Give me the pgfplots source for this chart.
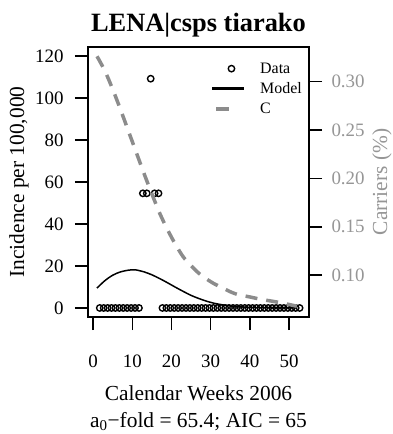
\documentclass[border=0pt]{standalone}
\usepackage{fontspec}
\setmainfont{Liberation Serif}
\usepackage{pgfplots}
\usepackage{pgfplotstable}
\pgfplotsset{compat=1.18}
\definecolor{cgray}{RGB}{140,140,140}
\definecolor{lgray}{RGB}{150,150,150}

\pgfplotsset{
  dotleg/.style={legend image code/.code={\path (0bp,0bp) (44bp,0bp); \draw[##1] plot coordinates {(19bp,0bp)};}},
  lineleg/.style={legend image code/.code={\path (0bp,0bp) (44bp,0bp); \draw[##1] (0bp,0bp) -- (32bp,0bp);}},
  cleg/.style={legend image code/.code={\path (0bp,0bp) (44bp,0bp); \draw[##1, solid] (4bp,0bp) -- (17bp,0bp);}},
}

% weekly incidence (data points)
\pgfplotstableread{
x y
1.7 0
2.7 0
3.7 0
4.7 0
5.7 0
6.7 0
7.7 0
8.7 0
9.7 0
10.7 0
11.7 0
12.7 54.6
13.7 54.6
14.7 109.2
15.7 54.6
16.7 54.6
17.7 0
18.7 0
19.7 0
20.7 0
21.7 0
22.7 0
23.7 0
24.7 0
25.7 0
26.7 0
27.7 0
28.7 0
29.7 0
30.7 0
31.7 0
32.7 0
33.7 0
34.7 0
35.7 0
36.7 0
37.7 0
38.7 0
39.7 0
40.7 0
41.7 0
42.7 0
43.7 0
44.7 0
45.7 0
46.7 0
47.7 0
48.7 0
49.7 0
50.7 0
51.7 0
52.7 0
}\incid

% model fit
\pgfplotstableread{
x y
1 9.5
3 13.0
5 15.6
7 17.2
9 18.0
10 18.2
11 18.1
13 17.2
15 15.8
17 14.0
19 12.0
21 9.9
23 7.9
25 6.0
27 4.5
29 3.2
31 2.2
33 1.5
35 1.0
37 0.6
40 0.3
45 0.1
52 0.0
}\model

% carriers (right axis)
\pgfplotstableread{
x y
1 0.326
3 0.311
5 0.292
7 0.271
9 0.249
11 0.227
13 0.205
15 0.184
17 0.164
19 0.147
21 0.132
23 0.119
25 0.110
27 0.102
29 0.096
31 0.091
33 0.087
35 0.083
37 0.080
40 0.0776
43 0.075
46 0.073
49 0.0707
52 0.068
}\carrier

\begin{document}
\begin{tikzpicture}
\useasboundingbox (-88bp,-117bp) rectangle (305bp,317bp);
\pgfplotsset{
  every axis/.append style={
    scale only axis, width=221bp, height=270bp,
    xmin=-1.3, xmax=55.1,
    tick align=outside, major tick length=13bp,
    /pgf/number format/assume math mode=true,
    every tick/.style={line width=1.5bp, black},
    axis line style={line width=1.5bp},
    tick label style={font=\fontsize{19}{22}\selectfont},
    label style={font=\fontsize{21.5}{27}\selectfont},
  },
}
\begin{axis}[
  ymin=-4.3, ymax=124.3,
  xtick={0,10,20,30,40,50}, ytick={0,20,40,60,80,100,120},
  xtick pos=bottom, ytick pos=left,
  xticklabel style={anchor=center, yshift=-31bp},
  yticklabel style={anchor=east, xshift=-8bp},
  title={LENA|csps tiarako},
  title style={font=\fontsize{26.5}{30}\selectfont\bfseries, at={(0.5,1)}, anchor=center, yshift=16bp},
  xlabel={Calendar Weeks 2006\\a\textsubscript{0}−fold = 65.4; AIC = 65},
  xlabel style={at={([yshift=-91.5bp]axis description cs:0.5,0)}, anchor=center, align=center},
  ylabel={Incidence per 100,000},
  ylabel style={at={([xshift=-69bp]axis description cs:0,0.5)}, anchor=center},
  legend style={draw=none, fill=none, at={(1,1)}, anchor=north east, xshift=-2bp, yshift=-11.5bp,
    font=\fontsize{16}{19}\selectfont, row sep=4bp},
  legend cell align=left,
]
\addlegendimage{only marks, mark=o, mark size=3.2bp, line width=1.4bp, black, dotleg}
\addlegendentry{Data}
\addlegendimage{black, line width=3bp, lineleg}
\addlegendentry{Model}
\addlegendimage{cgray, line width=3.5bp, cleg}
\addlegendentry{C}
\addplot[black, line width=1.5bp, smooth, forget plot] table {\model};
\addplot[only marks, mark=o, mark size=3.2bp, line width=1.4bp, black, forget plot] table {\incid};
\end{axis}
\begin{axis}[
  ymin=0.0569, ymax=0.3356,
  axis x line=none, axis y line*=right,
  ytick={0.10,0.15,0.20,0.25,0.30},
  yticklabel style={anchor=west, xshift=6bp, text=lgray,
    /pgf/number format/fixed, /pgf/number format/precision=2,
    /pgf/number format/fixed zerofill},
  ylabel={Carriers (\%)},
  ylabel style={text=lgray, at={([xshift=73bp]axis description cs:1,0.5)}, anchor=center},
]
\addplot[cgray, line width=3.5bp, dash pattern=on 12bp off 9bp, smooth] table {\carrier};
\end{axis}
\end{tikzpicture}
\end{document}
